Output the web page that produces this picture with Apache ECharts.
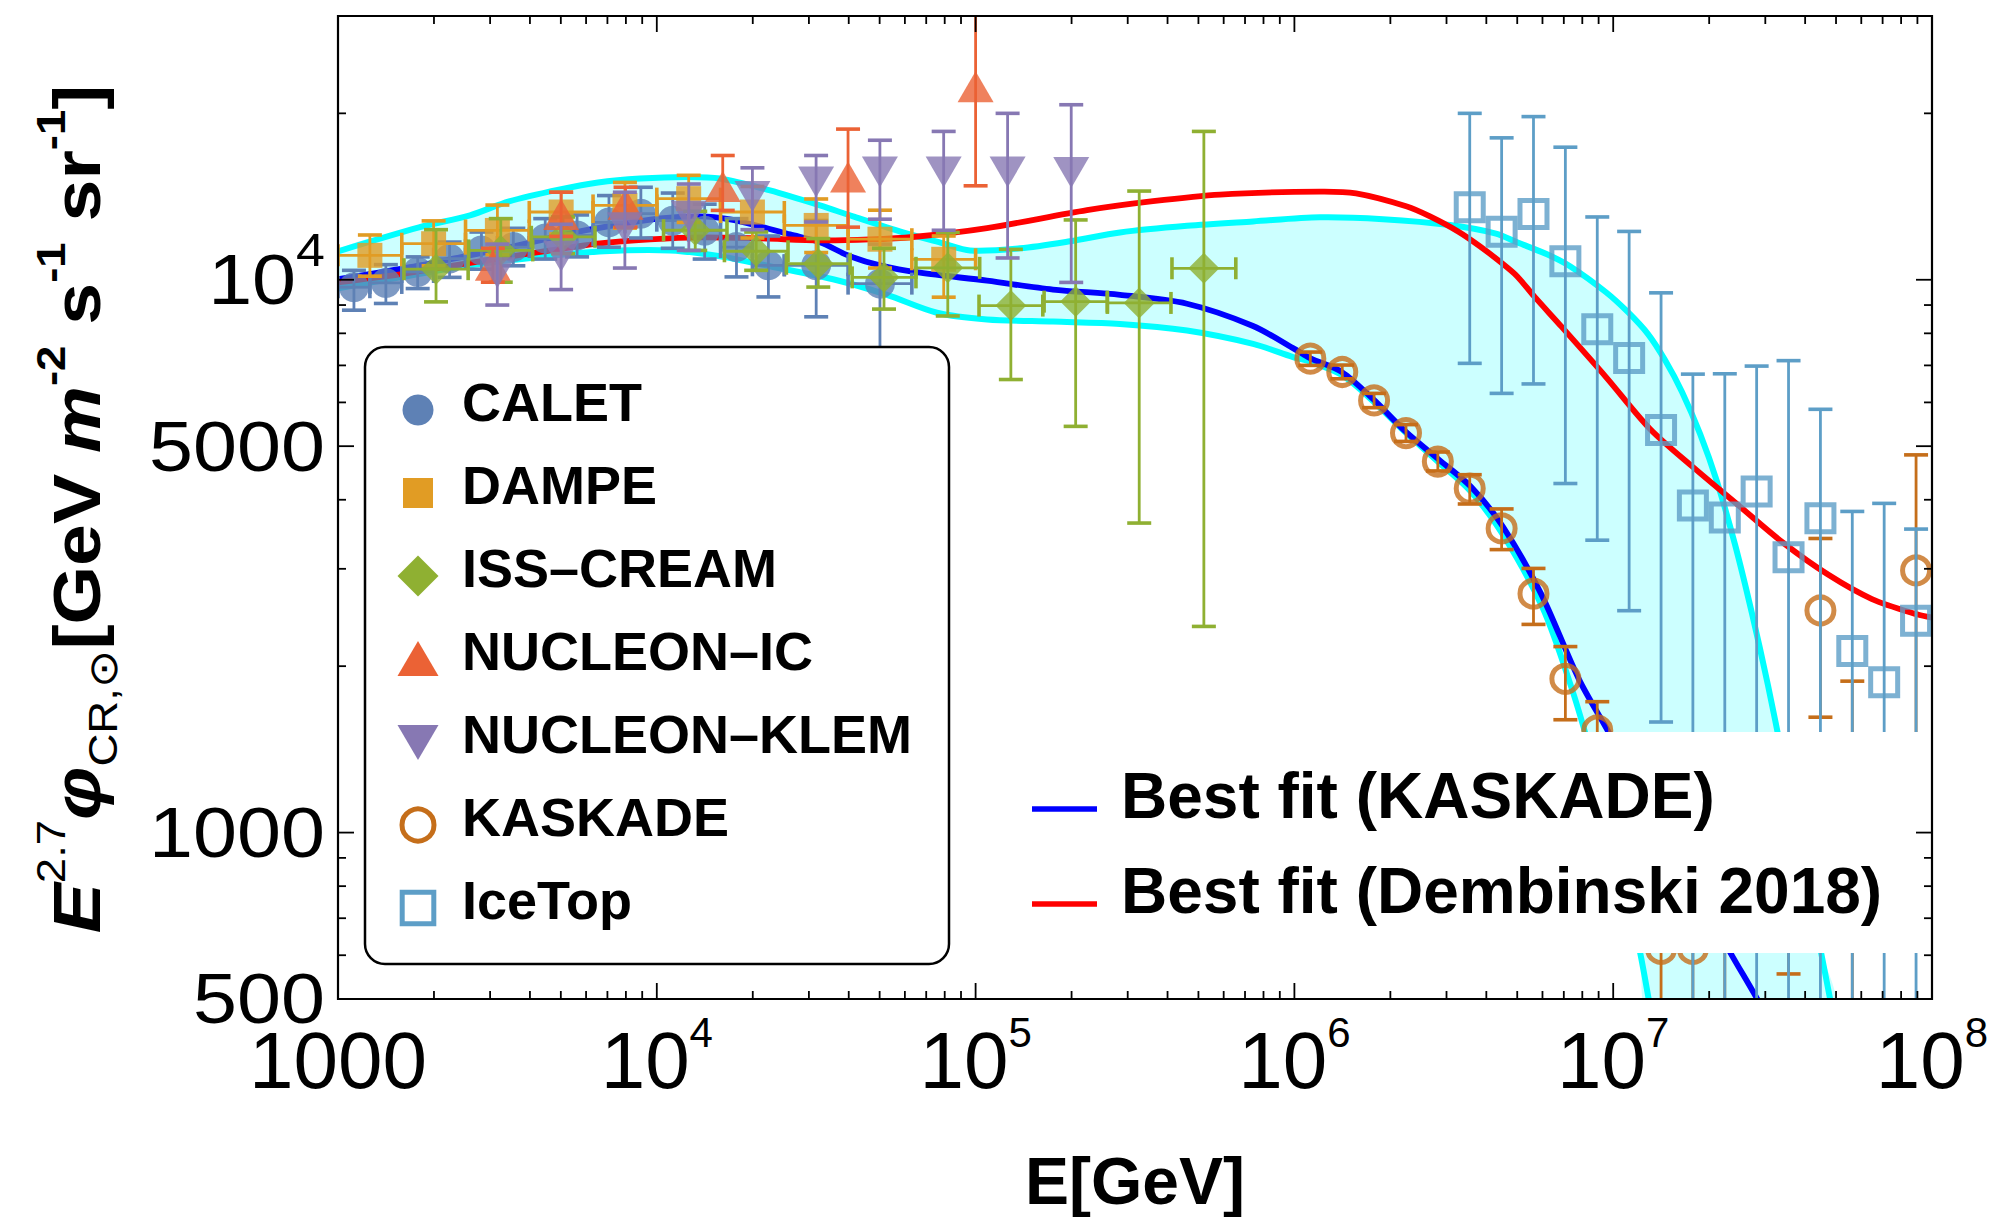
<!DOCTYPE html>
<html>
<head>
<meta charset="utf-8">
<title>Cosmic-ray proton spectrum</title>
<script src="https://cdn.jsdelivr.net/npm/echarts@6/dist/echarts.min.js"></script>
<style>
html, body { margin: 0; padding: 0; background: #ffffff; }
#chart { width: 1997px; height: 1217px; }
</style>
</head>
<body>
<div id="chart"></div>
<script>
// ---------------- measurements: E [GeV], E^2.7 flux, error-bar ends, energy bins ----------------
const caletE  = [1122, 1413, 1778, 2239, 2818, 3548, 4467, 5623, 7079, 8913, 11220, 14130, 17780, 22390, 31620, 50120];
const caletV  = [9694, 9868, 10330, 10920, 11300, 11460, 11870, 12030, 12700, 13170, 12790, 12270, 11460, 10620, 10620, 9840];
const caletLo = [8810, 9060, 9640, 10100, 10450, 10600, 10900, 11000, 11450, 11900, 11400, 10900, 10120, 9310, 8570, 7000];
const caletHi = [10400, 10650, 11000, 11700, 12200, 12390, 12900, 13100, 14200, 14700, 14350, 13700, 12900, 12000, 12800, 11600];
const caletBinLo = [1000, 1259, 1585, 1995, 2512, 3162, 3981, 5012, 6310, 7943, 10000, 12590, 15850, 19950, 25120, 39810];
const caletBinHi = [1259, 1585, 1995, 2512, 3162, 3981, 5012, 6310, 7943, 10000, 12590, 15850, 19950, 25120, 39810, 63100];

const dampeE  = [1259, 1995, 3162, 5012, 7943, 12590, 19950, 31620, 50120, 79430];
const dampeV  = [11070, 11620, 12280, 13260, 13630, 14020, 13260, 12540, 11840, 10890];
const dampeLo = [10150, 10600, 11100, 12100, 12400, 12700, 11900, 11200, 10500, 9300];
const dampeHi = [12050, 12780, 13650, 14400, 15000, 15450, 14750, 14000, 13360, 12000];
const dampeBinLo = [1000, 1585, 2512, 3981, 6310, 10000, 15850, 25120, 39810, 63100];
const dampeBinHi = [1585, 2512, 3981, 6310, 10000, 15850, 25120, 39810, 63100, 100000];

const issE  = [2030, 3240, 5080, 13200, 20500, 32100, 51600, 81800, 129000, 206000, 326000, 520000];
const issV  = [10450, 11300, 11960, 12290, 11260, 10690, 10100, 10510, 8980, 9130, 9080, 10490];
const issLo = [9120, 9900, 11150, 11300, 10400, 9700, 8850, 8600, 6600, 5430, 3630, 2360];
const issHi = [12320, 12900, 12990, 13300, 12200, 11870, 11400, 12180, 11350, 12830, 14470, 18550];
const issBinLo = [1610, 2570, 4040, 10500, 16300, 25500, 41000, 65000, 102500, 164000, 259000, 413000];
const issBinHi = [2560, 4080, 6400, 16600, 25800, 40400, 65000, 103000, 162500, 259000, 410000, 655000];

const nucIcE  = [3060, 5010, 7980, 16100, 39800, 100000];
const nucIcV  = [10620, 13130, 13690, 14750, 15340, 22350];
const nucIcLo = [9900, 11980, 12450, 13350, 12450, 14790];
const nucIcHi = [11400, 14400, 14700, 16780, 18730, 30500];

const nucKlemE  = [3160, 5010, 7940, 12600, 19950, 31600, 50100, 79400, 126000, 199500];
const nucKlemV  = [10300, 11030, 12420, 13030, 14150, 15020, 15660, 15660, 15660, 15640];
const nucKlemLo = [9000, 9600, 10500, 11300, 12320, 12720, 12870, 12290, 10950, 9890];
const nucKlemHi = [11600, 12600, 14400, 14900, 15940, 16780, 17880, 18550, 20000, 20730];

const kaskadeE  = [1.122e6, 1.413e6, 1.778e6, 2.239e6, 2.818e6, 3.548e6, 4.467e6, 5.623e6, 7.079e6, 8.913e6, 1.122e7, 1.413e7, 1.778e7, 2.239e7, 3.548e7, 4.467e7, 5.623e7, 8.913e7];
const kaskadeV  = [7200, 6810, 6050, 5280, 4690, 4190, 3550, 2705, 1897, 1530, 1000, 616, 616, 800, 900, 2522, 1100, 2980];
const kaskadeLo = [7000, 6620, 5870, 5100, 4510, 3930, 3250, 2380, 1600, 1250, 750, 300, 300, 300, 555, 1617, 300, 1073];
const kaskadeHi = [7400, 7010, 6230, 5470, 4880, 4440, 3850, 3005, 2170, 1725, 1300, 900, 900, 1300, 1400, 3404, 1879, 4822];

const icetopE  = [3.548e6, 4.467e6, 5.623e6, 7.079e6, 8.913e6, 1.122e7, 1.413e7, 1.778e7, 2.239e7, 2.818e7, 3.548e7, 4.467e7, 5.623e7, 7.079e7, 8.913e7];
const icetopV  = [13520, 12210, 13150, 10800, 8140, 7220, 5350, 3905, 3716, 4139, 3147, 3702, 2130, 1870, 2416];
const icetopLo = [7060, 6230, 6480, 4280, 3380, 2520, 1585, 300, 300, 300, 300, 300, 300, 300, 300];
const icetopHi = [20000, 18060, 19730, 17370, 12990, 12230, 9470, 6750, 6760, 6980, 7140, 5830, 3810, 3940, 3540];

// ---------------- model curves ----------------
const bandUpperE = [1000, 1795, 2595, 3440, 4971, 6541, 8858, 12430, 15790, 22650, 32500, 41250, 59210, 79000, 96030, 137800, 197800, 283800, 460400, 741800, 1.203e6, 1.897e6, 3.077e6, 4.289e6, 4.993e6, 6.2e6, 7.32e6, 9.494e6, 1.113e7, 1.286e7, 1.454e7, 1.644e7, 1.873e7, 2.117e7, 2.411e7, 2.725e7, 3.059e7, 3.408e7, 3.854e7, 4.453e7, 4.857e7];
const bandUpperV = [11260, 12440, 13080, 13860, 14570, 15000, 15250, 15350, 15250, 14510, 13630, 13020, 12180, 11640, 11300, 11400, 11740, 12180, 12520, 12750, 12970, 12870, 12560, 12120, 11690, 11120, 10580, 9493, 8735, 7974, 7156, 6266, 5262, 4311, 3318, 2490, 1846, 1357, 941, 621, 480];
const bandLowerE = [1000, 1565, 2485, 4210, 6830, 11000, 15790, 22650, 36750, 52740, 75680, 108600, 174900, 283800, 460400, 741800, 990000, 1.128e6, 1.41e6, 1.777e6, 2.239e6, 2.821e6, 3.58e6, 4.511e6, 6.023e6, 7.428e6, 8.457e6, 1.021e7, 1.214e7, 1.324e7];
const bandLowerV = [9654, 10100, 10580, 10980, 11260, 11300, 11030, 10580, 9979, 9391, 8717, 8478, 8401, 8321, 8092, 7655, 7246, 7097, 6723, 6011, 5284, 4685, 4135, 3457, 2542, 1816, 1415, 973, 608, 461];

const fitKaskadeE = [1000, 1354, 1808, 2413, 3223, 4301, 5742, 7664, 10230, 13660, 16970, 21070, 26170, 32500, 40360, 50130, 66930, 108600, 174900, 283800, 460400, 741800, 990000, 1.119e6, 1.41e6, 1.777e6, 2.239e6, 2.821e6, 3.58e6, 4.511e6, 5.936e6, 7.81e6, 9.561e6, 1.305e7, 1.873e7, 2.325e7, 2.826e7, 3.1e7];
const fitKaskadeV = [10020, 10315, 10620, 10980, 11350, 11785, 12230, 12590, 12910, 13020, 12860, 12490, 12080, 11690, 11030, 10620, 10300, 9963, 9601, 9391, 9049, 8249, 7522, 7216, 6808, 6061, 5305, 4742, 4222, 3575, 2706, 1893, 1538, 1112, 765, 608, 500.6, 451];

const fitDembinskiE = [1000, 1565, 2245, 3223, 4624, 6633, 9521, 13660, 21070, 32500, 46650, 63620, 108600, 223600, 360100, 584200, 1.203e6, 1.561e6, 2.255e6, 2.663e6, 3.261e6, 3.821e6, 4.48e6, 4.993e6, 5.644e6, 6.859e6, 9.494e6, 1.305e7, 1.792e7, 2.481e7, 3.408e7, 4.719e7, 6.484e7, 8.974e7, 1e8];
const fitDembinskiV = [9897, 10230, 10580, 10940, 11300, 11640, 11830, 11930, 11880, 11785, 11830, 11950, 12400, 13360, 13870, 14260, 14440, 14330, 13570, 13020, 12230, 11495, 10710, 10150, 9338, 8245, 6668, 5372, 4567, 3901, 3346, 2929, 2645, 2482, 2449];

// ---------------- axes, ticks, labels ----------------
const X_MIN = 1000, X_MAX = 1e8, Y_MIN = 500, Y_MAX = 30000;
const xMajorTicks = [1e3, 1e4, 1e5, 1e6, 1e7, 1e8];
const xTickLabels = [['1000', ''], ['10', '4'], ['10', '5'], ['10', '6'], ['10', '7'], ['10', '8']];
const xMinorTicks = [];
[1e3, 1e4, 1e5, 1e6, 1e7].forEach(d => { for (let k = 2; k <= 9; k++) xMinorTicks.push(k * d); });
const yMajorTicks = [500, 1000, 5000, 10000];
const yTickLabels = [['500', ''], ['1000', ''], ['5000', ''], ['10', '4']];
const yMinorTicks = [600, 700, 800, 900, 2000, 3000, 4000, 6000, 7000, 8000, 9000, 20000];

const legendNames = ['CALET', 'DAMPE', 'ISS\u2013CREAM', 'NUCLEON\u2013IC', 'NUCLEON\u2013KLEM', 'KASKADE', 'IceTop'];
const fitNames = ['Best fit (KASKADE)', 'Best fit (Dembinski 2018)'];

// ---------------- styling ----------------
const FONT = '"Liberation Sans", Arial, Helvetica, sans-serif';
const INK = '#000000';
const C = {
  calet: '#5E81B5', dampe: '#E19C24', iss: '#8FB032', nucIc: '#EB6235',
  nucKlem: '#8778B3', kaskade: '#C56E1A', icetop: '#5D9EC7',
  band: '#CCFFFF', bandEdge: '#00FFFF', fitK: '#0000FF', fitD: '#FF0000'
};
const legendColors = [C.calet, C.dampe, C.iss, C.nucIc, C.nucKlem, C.kaskade, C.icetop];

function rowsOf(E, V, Lo, Hi, BLo, BHi) {
  return E.map((e, i) => [e, V[i], Lo[i], Hi[i], BLo ? BLo[i] : 0, BHi ? BHi[i] : 0]);
}
function pairs(E, V) { return E.map((e, i) => [e, V[i]]); }

// vertical error bars with caps, plus horizontal bin bars where given
function errorBarRenderer(color) {
  return function (params, api) {
    const E = api.value(0), v = api.value(1), lo = api.value(2), hi = api.value(3);
    const b0 = api.value(4), b1 = api.value(5);
    const pLo = api.coord([E, lo]), pHi = api.coord([E, hi]);
    const stem = { stroke: color, lineWidth: 2.8 };
    const cap = { stroke: color, lineWidth: 3.6 };
    const CW = 12;
    const kids = [
      { type: 'line', shape: { x1: pLo[0], y1: pLo[1], x2: pHi[0], y2: pHi[1] }, style: stem },
      { type: 'line', shape: { x1: pLo[0] - CW, y1: pLo[1], x2: pLo[0] + CW, y2: pLo[1] }, style: cap },
      { type: 'line', shape: { x1: pHi[0] - CW, y1: pHi[1], x2: pHi[0] + CW, y2: pHi[1] }, style: cap }
    ];
    if (b0 > 0 && b1 > 0) {
      const pa = api.coord([b0, v]), pb = api.coord([b1, v]);
      kids.push({ type: 'line', shape: { x1: pa[0], y1: pa[1], x2: pb[0], y2: pb[1] }, style: stem });
      kids.push({ type: 'line', shape: { x1: pa[0], y1: pa[1] - 11, x2: pa[0], y2: pa[1] + 11 }, style: cap });
      kids.push({ type: 'line', shape: { x1: pb[0], y1: pb[1] - 11, x2: pb[0], y2: pb[1] + 11 }, style: cap });
    }
    return { type: 'group', children: kids };
  };
}

function curveRenderer(E, V, color, width) {
  return function (params, api) {
    const pts = E.map((e, i) => api.coord([e, V[i]]));
    return { type: 'polyline', shape: { points: pts, smooth: 0.3 }, style: { stroke: color, lineWidth: width, fill: 'none' } };
  };
}

function bandRenderer(params, api) {
  const up = bandUpperE.map((e, i) => api.coord([e, bandUpperV[i]]));
  const low = bandLowerE.map((e, i) => api.coord([e, bandLowerV[i]])).reverse();
  return { type: 'polygon', shape: { points: up.concat(low), smooth: 0.3 }, style: { fill: C.band, stroke: 'none' } };
}

function legendMarker(i, cx, cy) {
  const c = legendColors[i];
  switch (i) {
    case 0: return { type: 'circle', shape: { cx, cy, r: 15.5 }, style: { fill: c } };
    case 1: return { type: 'rect', shape: { x: cx - 15, y: cy - 15, width: 30, height: 30 }, style: { fill: c } };
    case 2: return { type: 'polygon', shape: { points: [[cx, cy - 20.5], [cx + 20.5, cy], [cx, cy + 20.5], [cx - 20.5, cy]] }, style: { fill: c } };
    case 3: return { type: 'polygon', shape: { points: [[cx, cy - 18], [cx + 20.5, cy + 17], [cx - 20.5, cy + 17]] }, style: { fill: c } };
    case 4: return { type: 'polygon', shape: { points: [[cx - 20.5, cy - 17], [cx + 20.5, cy - 17], [cx, cy + 18]] }, style: { fill: c } };
    case 5: return { type: 'circle', shape: { cx, cy, r: 16 }, style: { fill: 'none', stroke: c, lineWidth: 5 } };
    default: return { type: 'rect', shape: { x: cx - 15.8, y: cy - 15.8, width: 31.6, height: 31.6 }, style: { fill: 'none', stroke: c, lineWidth: 5 } };
  }
}

function renderLegends() {
  const kids = [];
  // white panel behind the fit-curve entries
  kids.push({ type: 'rect', shape: { x: 1012, y: 732, width: 919, height: 221 }, style: { fill: '#ffffff' } });
  // rounded panel for the data sets
  kids.push({ type: 'rect', shape: { x: 365, y: 347, width: 584, height: 617, r: 20 }, style: { fill: '#ffffff', stroke: INK, lineWidth: 2.5 } });
  legendNames.forEach((name, i) => {
    const cy = 410 + 83 * i;
    kids.push(legendMarker(i, 418, cy));
    kids.push({ type: 'text', x: 462, y: cy - 8, style: { text: name, fontSize: 54, fontWeight: 'bold', fontFamily: FONT, fill: INK, align: 'left', verticalAlign: 'middle' } });
  });
  const fitColors = [C.fitK, C.fitD];
  const lineY = [809, 904], textY = [796, 891];
  fitNames.forEach((name, i) => {
    kids.push({ type: 'line', shape: { x1: 1032, y1: lineY[i], x2: 1097, y2: lineY[i] }, style: { stroke: fitColors[i], lineWidth: 5.5 } });
    kids.push({ type: 'text', x: 1121, y: textY[i], style: { text: name, fontSize: 64, fontWeight: 'bold', fontFamily: FONT, fill: INK, align: 'left', verticalAlign: 'middle' } });
  });
  return { type: 'group', children: kids };
}

const xRich = {
  b: { fontSize: 80, lineHeight: 99, fontFamily: FONT, fill: INK },
  s: { fontSize: 42, lineHeight: 42, verticalAlign: 'top', fontFamily: FONT, fill: INK }
};
const yRich = {
  b: { fontSize: 70, lineHeight: 105, fontFamily: FONT, fill: INK },
  s: { fontSize: 46, lineHeight: 46, verticalAlign: 'top', fontFamily: FONT, fill: INK }
};
const titleRich = {
  b:    { fontSize: 66, fontWeight: 'bold', lineHeight: 92, fontFamily: FONT, fill: INK },
  ei:   { fontSize: 66, fontWeight: 'bold', fontStyle: 'italic', lineHeight: 92, fontFamily: FONT, fill: INK },
  sup:  { fontSize: 40, fontWeight: 'bold', lineHeight: 40, verticalAlign: 'top', fontFamily: FONT, fill: INK },
  supn: { fontSize: 40, lineHeight: 40, verticalAlign: 'top', fontFamily: FONT, fill: INK },
  sub:  { fontSize: 40, lineHeight: 60, verticalAlign: 'bottom', fontFamily: FONT, fill: INK }
};

function tickText(base, sup) { return sup ? '{b|' + base + '}{s|' + sup + '}' : '{b|' + base + '}'; }

function renderFrame(params, api) {
  const p0 = api.coord([X_MIN, Y_MIN]), p1 = api.coord([X_MAX, Y_MAX]);
  const L = p0[0], B = p0[1], R = p1[0], T = p1[1];
  const kids = [];
  const seg = (x1, y1, x2, y2) => kids.push({ type: 'line', shape: { x1, y1, x2, y2 }, style: { stroke: INK, lineWidth: 1.8 } });
  const MAJ = 16, MIN = 8;
  xMajorTicks.forEach(v => { const x = api.coord([v, Y_MIN])[0]; seg(x, B, x, B - MAJ); seg(x, T, x, T + MAJ); });
  xMinorTicks.forEach(v => { const x = api.coord([v, Y_MIN])[0]; seg(x, B, x, B - MIN); seg(x, T, x, T + MIN); });
  yMajorTicks.forEach(v => { const y = api.coord([X_MIN, v])[1]; seg(L, y, L + MAJ, y); seg(R, y, R - MAJ, y); });
  yMinorTicks.forEach(v => { const y = api.coord([X_MIN, v])[1]; seg(L, y, L + MIN, y); seg(R, y, R - MIN, y); });
  kids.push({ type: 'rect', shape: { x: L, y: T, width: R - L, height: B - T }, style: { fill: 'none', stroke: INK, lineWidth: 2.2 } });

  xMajorTicks.forEach((v, i) => {
    const x = api.coord([v, Y_MIN])[0];
    kids.push({ type: 'text', x: x, y: B + 12, style: { text: tickText(xTickLabels[i][0], xTickLabels[i][1]), rich: xRich, align: 'center', verticalAlign: 'top', fill: INK } });
  });
  yMajorTicks.forEach((v, i) => {
    const y = api.coord([X_MIN, v])[1];
    kids.push({ type: 'text', x: L - 13, y: y, scaleX: 1.13, style: { text: tickText(yTickLabels[i][0], yTickLabels[i][1]), rich: yRich, align: 'right', verticalAlign: 'middle', fill: INK } });
  });

  kids.push({ type: 'text', x: (L + R) / 2, y: 1181, style: { text: 'E[GeV]', fontSize: 66, lineHeight: 66, fontWeight: 'bold', fontFamily: FONT, fill: INK, align: 'center', verticalAlign: 'middle' } });
  kids.push({
    type: 'text', x: 77, y: 509, rotation: Math.PI / 2, scaleX: 1.14,
    style: {
      text: '{ei|E}{supn|2.7}{ei|\u03C6}{sub|CR,\u2299}{b|[GeV }{ei|m}{sup|-2}{b| s}{sup|-1}{b| sr}{sup|-1}{b|]}',
      rich: titleRich, align: 'center', verticalAlign: 'middle', fill: INK
    }
  });
  return { type: 'group', children: kids };
}

// ---------------- series ----------------
const series = [];
function addCustom(name, z, data, renderItem, clip) {
  series.push({
    type: 'custom', name, z, silent: true, clip: !!clip,
    dimensions: ['E', 'v', 'lo', 'hi', 'binLo', 'binHi'].slice(0, data[0].length),
    encode: { x: 0, y: 1 }, data, renderItem
  });
}
function addMarkers(name, z, E, V, symbol, size, color, hollow, rotate) {
  series.push({
    type: 'scatter', name, z, silent: true,
    data: pairs(E, V), symbol, symbolSize: size, symbolRotate: rotate || 0,
    itemStyle: hollow ? { color: 'rgba(0,0,0,0)', borderColor: color, borderWidth: 5 } : { color: color },
    emphasis: { disabled: true }
  });
}

addCustom('band', 1, [[bandUpperE[0], bandUpperV[0]]], bandRenderer, true);
addCustom('band upper edge', 2, [[bandUpperE[0], bandUpperV[0]]], curveRenderer(bandUpperE, bandUpperV, C.bandEdge, 6), true);
addCustom('band lower edge', 2, [[bandLowerE[0], bandLowerV[0]]], curveRenderer(bandLowerE, bandLowerV, C.bandEdge, 6), true);
addCustom(fitNames[0], 3, [[fitKaskadeE[0], fitKaskadeV[0]]], curveRenderer(fitKaskadeE, fitKaskadeV, C.fitK, 5.8), true);
addCustom(fitNames[1], 4, [[fitDembinskiE[0], fitDembinskiV[0]]], curveRenderer(fitDembinskiE, fitDembinskiV, C.fitD, 5.8), true);

addCustom('CALET errors', 10, rowsOf(caletE, caletV, caletLo, caletHi, caletBinLo, caletBinHi), errorBarRenderer(C.calet), true);
addMarkers('CALET', 11, caletE, caletV, 'circle', 30, C.calet);
addCustom('DAMPE errors', 12, rowsOf(dampeE, dampeV, dampeLo, dampeHi, dampeBinLo, dampeBinHi), errorBarRenderer(C.dampe), true);
addMarkers('DAMPE', 13, dampeE, dampeV, 'rect', 25, C.dampe);
addCustom('ISS-CREAM errors', 14, rowsOf(issE, issV, issLo, issHi, issBinLo, issBinHi), errorBarRenderer(C.iss), true);
addMarkers('ISS-CREAM', 15, issE, issV, 'diamond', 31, C.iss);
addCustom('NUCLEON-IC errors', 16, rowsOf(nucIcE, nucIcV, nucIcLo, nucIcHi), errorBarRenderer(C.nucIc), true);
addMarkers('NUCLEON-IC', 17, nucIcE, nucIcV, 'triangle', [36, 31], C.nucIc);
addCustom('NUCLEON-KLEM errors', 18, rowsOf(nucKlemE, nucKlemV, nucKlemLo, nucKlemHi), errorBarRenderer(C.nucKlem), true);
addMarkers('NUCLEON-KLEM', 19, nucKlemE, nucKlemV, 'triangle', [36, 31], C.nucKlem, false, 180);
addCustom('KASKADE errors', 20, rowsOf(kaskadeE, kaskadeV, kaskadeLo, kaskadeHi), errorBarRenderer(C.kaskade), true);
addMarkers('KASKADE', 21, kaskadeE, kaskadeV, 'circle', 27, C.kaskade, true);
addCustom('IceTop errors', 22, rowsOf(icetopE, icetopV, icetopLo, icetopHi), errorBarRenderer(C.icetop), true);
addMarkers('IceTop', 23, icetopE, icetopV, 'rect', 27, C.icetop, true);

addCustom('legends', 100, [[X_MIN, Y_MIN]], renderLegends, false);
addCustom('frame', 120, [[X_MIN, Y_MIN]], renderFrame, false);

const hiddenAxis = { axisLine: { show: false }, axisTick: { show: false }, axisLabel: { show: false }, splitLine: { show: false } };

const chart = echarts.init(document.getElementById('chart'), null, { renderer: 'svg', width: 1997, height: 1217 });
chart.setOption({
  animation: false,
  backgroundColor: '#ffffff',
  grid: { left: 338, top: 16, width: 1594, height: 983, containLabel: false, outerBoundsMode: 'none' },
  xAxis: Object.assign({ type: 'log', logBase: 10, min: X_MIN, max: X_MAX }, hiddenAxis),
  yAxis: Object.assign({ type: 'log', logBase: 10, min: Y_MIN, max: Y_MAX }, hiddenAxis),
  series: series
});
</script>
</body>
</html>
